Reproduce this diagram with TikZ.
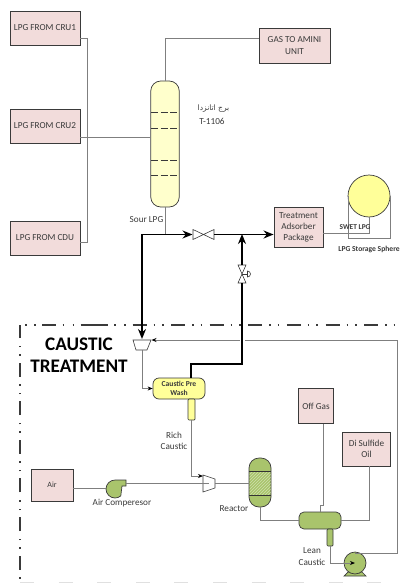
\documentclass[tikz,border=0pt]{standalone}
\usepackage{fontspec}
\usetikzlibrary{arrows.meta,patterns,positioning}
\setmainfont{Carlito}
\newfontfamily\arabicfont[Script=Arabic]{DejaVu Sans}
\TeXXeTstate=1
\definecolor{FigureInk}{HTML}{3A3A3A}
\definecolor{LineGray}{HTML}{7F7F7F}
\definecolor{BoxFill}{HTML}{F2DCDB}
\definecolor{PaleYellow}{HTML}{FFFFCC}
\definecolor{WashYellow}{HTML}{FFFF99}
\definecolor{VesselGreen}{HTML}{A9C46C}
\tikzset{
  figure/.style={x=1pt,y=-1pt,font=\fontsize{9.2}{11.2}\selectfont,text=FigureInk},
  feedbox/.style={draw=FigureInk,line width=0.9pt,fill=BoxFill,align=center,inner sep=0pt},
  vessel/.style={draw=FigureInk,line width=0.7pt,inner sep=0pt,align=center},
  tag/.style={align=center,inner sep=0pt},
  pipe/.style={line width=1pt,draw=LineGray},
  pipearrow/.style={pipe,-{Stealth[length=5pt,width=4pt,color=black]}},
  mainline/.style={line width=1.7pt,draw=black},
  mainarrow/.style={mainline,-{Stealth[length=10pt,width=8pt]}},
  fitting/.style={draw=FigureInk,line width=0.6pt,fill=white},
  border/.style={line width=1.3pt,draw=FigureInk},
}
\begin{document}
\begin{tikzpicture}[figure]
  \useasboundingbox (0,0) rectangle (401,583);

  \draw[border,dash pattern=on 14pt off 7pt on 1.5pt off 7pt on 1.5pt off 7.6pt,dash phase=28.2pt] (20,580) -- (20,325);
  \draw[border,dash pattern=on 1.5pt off 7.5pt on 1.5pt off 6.5pt on 14pt off 6.5pt on 1.5pt off 8.5pt on 1.5pt off 6.5pt on 27pt off 6.5pt on 1.5pt off 8.5pt on 1.5pt off 5.5pt on 0pt off 50pt] (25,325) -- (132,325);
  \draw[border,dash pattern=on 14pt off 7pt on 1.5pt off 7pt on 1.5pt off 7.6pt] (132.5,325) -- (397,325);
  \draw[line width=1pt,draw=black!12,dash pattern=on 14pt off 24.6pt] (20,582) -- (397,582);

  \node[feedbox,minimum width=70pt,minimum height=34pt] (cruone) at (45,28) {LPG FROM CRU1};
  \node[feedbox,minimum width=70pt,minimum height=34pt] (crutwo) at (45,126) {LPG FROM CRU2};
  \node[feedbox,minimum width=70pt,minimum height=34pt] (cdu) at (45,238) {LPG FROM CDU};
  \node[feedbox,minimum width=71pt,minimum height=35pt] (amine) at (294.5,45.5) {GAS TO AMINI\\UNIT};
  \node[feedbox,minimum width=49pt,minimum height=40pt] (adsorber) at (298.5,227.5) {Treatment\\Adsorber\\Package};
  \node[feedbox,minimum width=42pt,minimum height=32pt,font=\fontsize{8}{10}\selectfont] (air) at (52,485) {Air};
  \node[feedbox,minimum width=35pt,minimum height=35pt] (offgas) at (316,406) {Off Gas};
  \node[feedbox,minimum width=48pt,minimum height=34pt] (disulfide) at (366.5,449) {Di Sulfide\\Oil};

  \node[vessel,fill=PaleYellow,rounded corners=10pt,minimum width=28.5pt,minimum height=126pt] (column) at (165,144) {};
  \node[vessel,fill=WashYellow,rounded corners=6pt,minimum width=52pt,minimum height=21pt,
    font=\bfseries\fontsize{7.6}{9.5}\selectfont] (prewash) at (179,388.5) {Caustic Pre\\Wash};
  \node[vessel,fill=WashYellow,rounded corners=1pt,minimum width=7pt,minimum height=21pt] (washboot) at (191.5,409.5) {};
  \node[vessel,fill=VesselGreen,rounded corners=10pt,minimum width=22pt,minimum height=49pt] (reactor) at (260,482.5) {};
  \node[vessel,fill=VesselGreen,rounded corners=5pt,minimum width=42pt,minimum height=17pt] (separator) at (320,520.5) {};
  \node[vessel,fill=VesselGreen,rounded corners=1pt,minimum width=6pt,minimum height=17pt] (sepboot) at (330,537.5) {};
  \node[vessel,circle,fill=WashYellow,minimum size=42pt] (sphere) at (369,196) {};

  \foreach \trayy in {112,128,160,175}
    \draw[line width=0.8pt,draw=FigureInk,dash pattern=on 7pt off 2.5pt] (151,\trayy) -- (179,\trayy);

  \fill[pattern=north east lines,pattern color=white!45!VesselGreen] (249.5,471) rectangle (270.5,495);
  \draw[line width=0.8pt,draw=black!80] (249,471) -- (271,471) (249,495) -- (271,495);

  \filldraw[fill=VesselGreen,draw=FigureInk,line width=0.7pt] (344,576) -- (348,572) -- (362,572) -- (366,576) -- cycle;
  \node[vessel,circle,fill=VesselGreen,minimum size=22pt] (pump) at (355,563) {};

  \filldraw[fill=VesselGreen,draw=FigureInk,line width=0.7pt] (126,480) -- (115,480)
    arc[start angle=90,end angle=310,radius=9pt] -- (122,486) -- (126,486) -- cycle;
  \coordinate (compin) at (105.5,488.5);
  \coordinate (compout) at (126,483);

  \node[inner sep=0pt,minimum size=0pt] (mixone) at (142,345) {};
  \draw[fitting] (133,340) -- (151,340) -- (147,350) -- (136,350) -- cycle;
  \node[inner sep=0pt,minimum size=0pt] (mixtwo) at (209,483.5) {};
  \draw[fitting] (203,475) -- (215,479) -- (215,488) -- (203,492) -- cycle;

  \node[inner sep=0pt,minimum size=0pt] (valveone) at (203.5,234.5) {};
  \draw[fitting] (193,229.5) -- (214,239.5) -- (214,229.5) -- (193,239.5) -- cycle;
  \node[inner sep=0pt,minimum size=0pt] (valvetwo) at (242,274) {};
  \draw[fitting] (238,265) -- (246,265) -- (238,283) -- (246,283) -- cycle;
  \draw[line width=0.6pt,draw=FigureInk] (242,274) -- (247,274);
  \draw[fitting] (247.5,271) arc[start angle=90,end angle=-90,radius=3pt] -- cycle;

  \draw[pipe] (cruone.east |- 0,39) -| (87,242) -- (cdu.east |- 0,242);
  \draw[pipe] (crutwo.east |- 0,137) -- (column.west |- 0,137);
  \draw[pipe] (column.north) |- (amine.west |- 0,39);
  \draw[pipe] (column.south) -- (165,234.5);
  \draw[pipe] (air.east |- 0,488.5) -- (compin);
  \draw[pipe] (compout) -- (mixtwo.west |- compout);
  \draw[pipe] (215,483.5) -- (reactor.west |- 0,483.5);
  \draw[pipe] (reactor.south) |- (separator.west);
  \draw[pipe] (offgas.south -| 323,0) -- (323,505) -- (320,505) -- (separator.north -| 320,0);
  \draw[pipe] (disulfide.south -| 369,0) |- (separator.east);
  \draw[pipe] (adsorber.east |- 0,233) -| (sphere.south);
  \draw[pipe] (348,196) |- (390,238) -- (390,196);

  \draw[pipearrow] (mixone.south |- 0,350) |- (prewash.west |- 0,388.5);
  \draw[pipearrow] (washboot.south) |- (203,476);
  \draw[pipearrow] (sepboot.south) |- (pump.center);
  \draw[pipe] (355,553) -- (397,553) -- (397,340) -- (244.5,340);
  \draw[pipearrow] (239.5,340) -- (151.5,340);

  \draw[mainarrow] (165,234.5) -- (142,234.5) -- (mixone.north |- 0,339);
  \draw[mainarrow] (142,234.5) -- (192.5,234.5);
  \draw[mainline] (214,234.5) -- (242,234.5);
  \draw[mainarrow] (242,234.5) -- (adsorber.west |- 0,234.5);
  \draw[mainline] (prewash.north -| 191,0) -- (191,364) -| (valvetwo.south |- 0,283);
  \draw[mainarrow] (valvetwo.north |- 0,265) -- (242,234);

  \node[tag] (sourlpg) at (146.5,220) {Sour LPG};
  \node[tag,font=\fontsize{7.5}{9}\selectfont] (towername) at (213.5,109) {\arabicfont\beginR برج اتانزدا\endR};
  \node[tag] (towertag) at (212,121) {T-1106};
  \node[tag,font=\bfseries\fontsize{7.4}{9}\selectfont] (swetlpg) at (355,227) {SWET LPG};
  \node[tag,font=\bfseries\fontsize{7.6}{9}\selectfont] (storage) at (369,249.5) {LPG Storage Sphere};
  \node[tag,font=\bfseries\fontsize{19.2}{22}\selectfont,text=black] (caustic) at (79,355) {CAUSTIC\\TREATMENT};
  \node[tag] (rich) at (174,440.5) {Rich\\Caustic};
  \node[tag] (compname) at (122,503.5) {Air Comperesor};
  \node[tag] (reactorname) at (234,508.5) {Reactor};
  \node[tag] (lean) at (312,556.5) {Lean\\Caustic};
\end{tikzpicture}
\end{document}
